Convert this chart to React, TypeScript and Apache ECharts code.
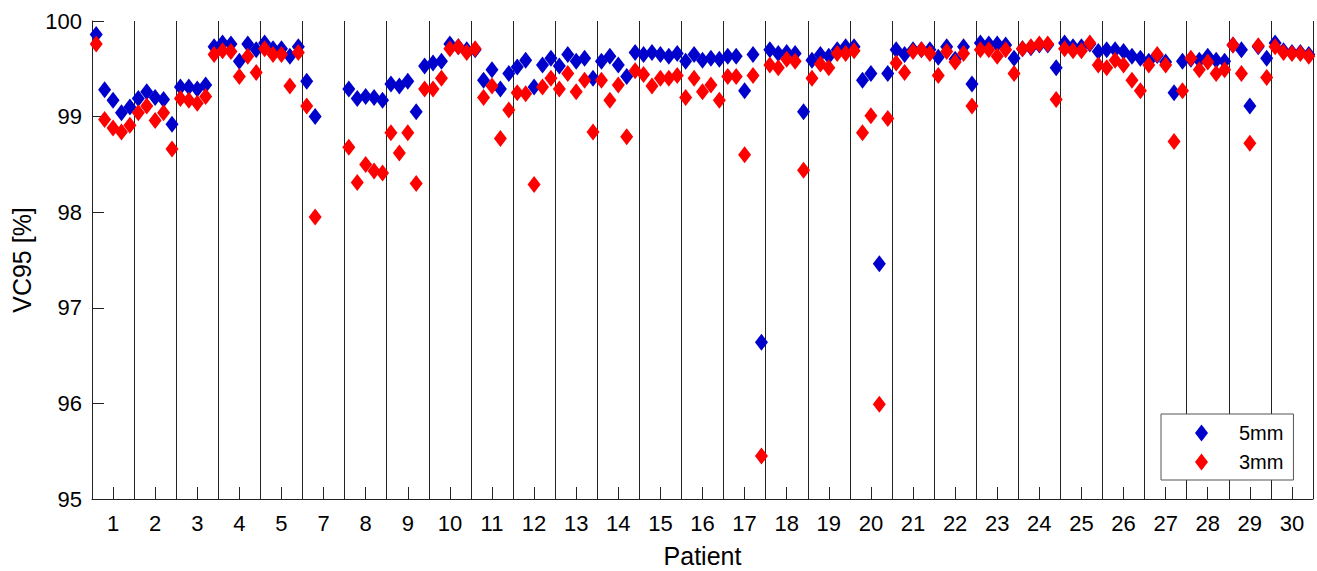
import React, { useEffect, useRef } from "react";
import * as echarts from "echarts";

const patients = ["1","2","3","4","5","7","8","9","10","11","12","13","14","15","16","17","18","19","20","21","22","23","24","25","26","27","28","29","30"];
const slotsPerPatient = 5;
const yTicks = { min: 95, max: 100, step: 1 };

const vc95_5mm = [
  [99.86, 99.28, 99.17, 99.04, 99.10],
  [99.19, 99.26, 99.20, 99.18, 98.92],
  [99.31, 99.31, 99.29, 99.33, 99.73],
  [99.77, 99.76, 99.58, 99.76, 99.70],
  [99.77, 99.71, 99.71, 99.63, 99.73],
  [99.37, 99.00],
  [99.29, 99.19, 99.21, 99.20, 99.17],
  [99.34, 99.32, 99.37, 99.05, 99.53],
  [99.56, 99.58, 99.76, 99.73, 99.70],
  [99.70, 99.38, 99.49, 99.29, 99.45],
  [99.52, 99.59, 99.31, 99.54, 99.61],
  [99.53, 99.65, 99.58, 99.61, 99.40],
  [99.58, 99.63, 99.54, 99.42, 99.67],
  [99.65, 99.67, 99.65, 99.63, 99.66],
  [99.58, 99.65, 99.59, 99.61, 99.60],
  [99.63, 99.63, 99.27, 99.65, 96.64],
  [99.70, 99.66, 99.67, 99.66, 99.05],
  [99.59, 99.65, 99.63, 99.70, 99.73],
  [99.73, 99.38, 99.45, 97.46, 99.45],
  [99.70, 99.65, 99.70, 99.70, 99.70],
  [99.62, 99.73, 99.60, 99.73, 99.34],
  [99.77, 99.76, 99.76, 99.75, 99.61],
  [99.71, 99.72, 99.75, 99.75, 99.51],
  [99.77, 99.73, 99.73, 99.76, 99.68],
  [99.70, 99.70, 99.68, 99.63, 99.61],
  [99.58, 99.64, 99.57, 99.25, 99.58],
  [99.60, 99.59, 99.63, 99.59, 99.58],
  [99.75, 99.70, 99.11, 99.73, 99.61],
  [99.77, 99.69, 99.67, 99.67, 99.65],
];

const vc95_3mm = [
  [99.76, 98.97, 98.88, 98.84, 98.91],
  [99.04, 99.11, 98.96, 99.04, 98.66],
  [99.19, 99.17, 99.14, 99.21, 99.65],
  [99.69, 99.68, 99.42, 99.63, 99.46],
  [99.71, 99.65, 99.65, 99.32, 99.67],
  [99.11, 97.95],
  [98.68, 98.31, 98.50, 98.43, 98.41],
  [98.83, 98.62, 98.83, 98.30, 99.29],
  [99.29, 99.40, 99.71, 99.73, 99.67],
  [99.71, 99.20, 99.32, 98.77, 99.07],
  [99.25, 99.24, 98.29, 99.31, 99.40],
  [99.29, 99.45, 99.26, 99.38, 98.84],
  [99.38, 99.17, 99.33, 98.79, 99.48],
  [99.44, 99.32, 99.40, 99.40, 99.43],
  [99.20, 99.40, 99.26, 99.33, 99.17],
  [99.42, 99.42, 98.60, 99.43, 95.45],
  [99.54, 99.51, 99.60, 99.58, 98.44],
  [99.40, 99.55, 99.51, 99.66, 99.66],
  [99.69, 98.83, 99.01, 95.99, 98.98],
  [99.56, 99.46, 99.68, 99.70, 99.66],
  [99.43, 99.68, 99.57, 99.66, 99.11],
  [99.70, 99.70, 99.63, 99.70, 99.45],
  [99.71, 99.73, 99.76, 99.76, 99.18],
  [99.71, 99.69, 99.69, 99.77, 99.54],
  [99.51, 99.59, 99.54, 99.38, 99.27],
  [99.54, 99.65, 99.54, 98.74, 99.27],
  [99.61, 99.49, 99.57, 99.45, 99.49],
  [99.75, 99.45, 98.72, 99.74, 99.41],
  [99.73, 99.67, 99.66, 99.66, 99.63],
];

const seriesNames = ["5mm", "3mm"];
const seriesColors = ["#0000cc", "#ff0000"];

function toPoints(groups: number[][]) {
  const pts: number[][] = [];
  groups.forEach((vals, g) => {
    vals.forEach((v, j) => {
      pts.push([g * slotsPerPatient + j + 0.5, v]);
    });
  });
  return pts;
}

const FONT = "'Liberation Sans', Arial, Helvetica, sans-serif";
const AXIS_COLOR = "#222";

export default function App() {
  const ref = useRef<HTMLDivElement>(null);
  useEffect(() => {
    if (!ref.current) return;
    const chart = echarts.init(ref.current, undefined, { renderer: "svg" });
    const totalSlots = patients.length * slotsPerPatient;
    chart.setOption({
      animation: false,
      backgroundColor: "#fff",
      textStyle: { fontFamily: FONT },
      grid: { left: 92, right: 4, top: 21, bottom: 72, containLabel: false, outerBoundsMode: "none" },
      xAxis: [
        {
          type: "value",
          position: "bottom",
          min: 0,
          max: totalSlots,
          interval: slotsPerPatient,
          axisLine: { show: true, onZero: false, lineStyle: { color: AXIS_COLOR, width: 1 } },
          axisTick: { show: false },
          axisLabel: { show: false },
          splitLine: { show: true, lineStyle: { color: AXIS_COLOR, width: 1 } },
        },
        {
          type: "category",
          position: "bottom",
          data: patients,
          boundaryGap: true,
          axisLine: { show: false },
          axisTick: { show: true, inside: true, length: 12, alignWithLabel: true, interval: 0, lineStyle: { color: AXIS_COLOR } },
          axisLabel: { interval: 0, fontSize: 22, color: "#000", margin: 13, fontFamily: FONT },
          splitLine: { show: false },
          name: "Patient",
          nameLocation: "middle",
          nameGap: 48,
          nameTextStyle: { fontSize: 25, lineHeight: 18, color: "#000", fontFamily: FONT },
        },
      ],
      yAxis: {
        type: "value",
        min: yTicks.min,
        max: yTicks.max,
        interval: yTicks.step,
        axisLine: { show: true, onZero: false, lineStyle: { color: AXIS_COLOR, width: 1 } },
        axisTick: { show: true, inside: true, length: 12, lineStyle: { color: AXIS_COLOR } },
        axisLabel: { fontSize: 22, color: "#000", margin: 10, fontFamily: FONT },
        splitLine: { show: false },
        name: "VC95 [%]",
        nameLocation: "middle",
        nameRotate: 90,
        nameGap: 57,
        nameTextStyle: { fontSize: 25, color: "#000", fontFamily: FONT },
      },
      legend: {
        orient: "vertical",
        left: 1161,
        top: 414,
        padding: [9, 10, 8, 34],
        itemGap: 9,
        itemWidth: 13,
        itemHeight: 17,
        borderColor: "#555",
        borderWidth: 1,
        backgroundColor: "#fff",
        data: seriesNames.map((n) => ({ name: n, icon: "diamond" })),
        textStyle: { fontSize: 20, color: "#000", lineHeight: 20, padding: [0, 0, 0, 26], fontFamily: FONT },
      },
      series: [vc95_5mm, vc95_3mm].map((groups, i) => ({
        name: seriesNames[i],
        type: "scatter",
        xAxisIndex: 0,
        yAxisIndex: 0,
        symbol: "diamond",
        symbolSize: [13, 17],
        symbolKeepAspect: false,
        itemStyle: { color: seriesColors[i], opacity: 1 },
        emphasis: { disabled: true },
        data: toPoints(groups),
      })),
    });
    return () => chart.dispose();
  }, []);
  return (
    <div
      ref={ref}
      style={{ position: "absolute", left: 0, top: 0, width: 1317, height: 571 }}
    />
  );
}
